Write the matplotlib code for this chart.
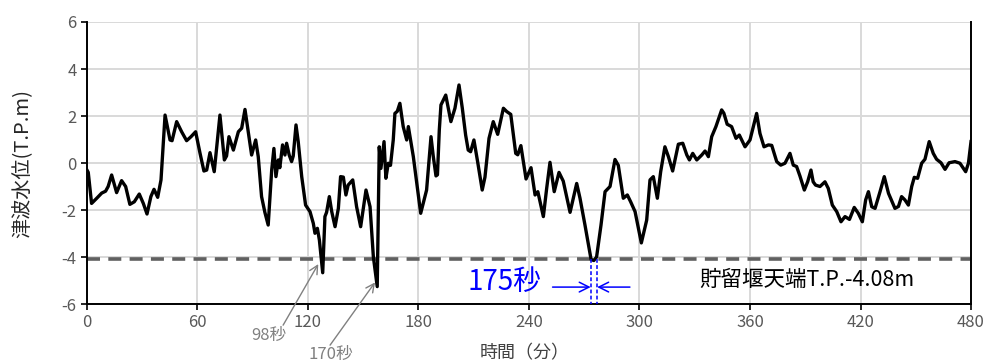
import matplotlib
matplotlib.use("Agg")
import matplotlib.pyplot as plt

plt.rcParams['font.family'] = ['Noto Sans CJK JP', 'DejaVu Sans']
plt.rcParams['axes.unicode_minus'] = False

# Time (minutes) and tsunami water level (T.P. m)
time_min = [
    0, 0.7, 2.5, 5.3, 8, 10.1, 11.5, 13.4, 16.1, 18.8, 21, 23.3, 25.7, 28.4, 30.6, 32.6,
    34.7, 36.4, 38.4, 40.2, 42.4, 45.1, 46.2, 48.7, 51.4, 54.1, 56.5, 59, 61.4, 63.5, 65,
    66.8, 69.1, 72.2, 74.6, 75.8, 77.1, 79.5, 82.2, 84, 85.8, 89.4, 91.6, 93, 94.8, 96.6,
    98.4, 100.3, 101.5, 102.6, 103.9, 104.7, 106.2, 107.5, 108.4, 109.8, 111.1, 112, 113.5,
    114.7, 116.6, 118.7, 121.1, 122.9, 123.8, 125.1, 126.2, 127.1, 128, 129.2, 130.1, 131.6,
    132.9, 134.7, 136.5, 137.7, 139.2, 140.6, 141.8, 144.3, 146.4, 148.6, 151.5, 153.7,
    155.5, 157.6, 158.7, 159.6, 161.3, 162.3, 163.6, 164.8, 166.3, 167.2, 168.5, 169.9,
    171.7, 173.6, 174.5, 177.2, 181.2, 184.4, 186.8, 188, 189.5, 190.3, 191.3, 192.2,
    194.8, 197.6, 199.8, 202, 203.8, 205.6, 207, 208.3, 210.1, 212.1, 214.6, 216.1, 218.3,
    220.6, 223, 226.1, 227.9, 230.1, 232.8, 233.9, 235.6, 238.4, 241.1, 243.3, 244.8,
    247.8, 249.6, 251.4, 253.7, 256.3, 258.6, 262.3, 265.9, 267.7, 270.4, 273.7, 275.2,
    276.7, 279.1, 281.3, 284, 286.7, 288.5, 291.2, 293.4, 295.2, 297.6, 301, 303.9, 305.7,
    307.5, 309.7, 311.5, 313.8, 315.7, 318, 321.1, 323.5, 325.7, 327.1, 328.9, 331.1,
    333.8, 335.6, 337.4, 339.2, 341.5, 344.6, 345.8, 347.6, 350, 352.4, 354.2, 357.3, 360,
    361.8, 363.6, 365.4, 367.6, 370, 371.8, 374.5, 376.7, 379, 381.7, 383.5, 385.3, 387.1,
    389.5, 391.3, 393.1, 394.3, 395.6, 398, 400.7, 402.5, 404.7, 407.1, 409.4, 411.6, 414,
    416.6, 418.8, 421, 422.8, 424.3, 426.1, 427.9, 430.6, 432.9, 435.2, 438.7, 440.6,
    442.3, 444.1, 446, 447.8, 449.2, 451, 453.2, 455, 457.3, 459.5, 461.3, 463.7, 465.9,
    468.1, 471.3, 474, 477.1, 478.6, 480,
]
water_level = [
    -0.3, -0.4, -1.72, -1.5, -1.28, -1.2, -1.0, -0.51, -1.26, -0.75, -1.0, -1.76, -1.65,
    -1.32, -1.72, -2.17, -1.43, -1.12, -1.46, -0.72, 2.04, 0.98, 0.95, 1.76, 1.33, 0.95,
    1.12, 1.33, 0.41, -0.34, -0.3, 0.44, -0.37, 2.04, 0.13, 0.3, 1.12, 0.55, 1.33, 1.48,
    2.28, 0.34, 0.98, 0.27, -1.43, -2.1, -2.64, -0.3, 0.62, -0.58, 0.13, -0.2, 0.77, 0.34,
    0.84, 0.34, 0.06, 0.3, 1.62, 0.91, -0.58, -1.79, -2.07, -2.57, -2.99, -2.78, -3.28,
    -3.99, -4.67, -2.28, -2.1, -1.43, -2.07, -2.71, -1.93, -0.58, -0.6, -1.36, -0.94,
    -0.72, -1.86, -2.71, -1.15, -1.86, -3.99, -5.26, 0.69, -0.23, 0.91, -0.65, -0.01, -0.1,
    0.98, 2.11, 2.2, 2.54, 1.55, 0.98, 1.55, 0.27, -2.14, -1.15, 1.12, 0.3, -0.55, -0.5,
    1.4, 2.47, 2.89, 1.76, 2.33, 3.32, 2.33, 1.19, 0.55, 0.48, 0.98, 0.06, -1.15, -0.6,
    1.05, 1.76, 1.22, 2.33, 2.19, 2.07, 0.41, 0.35, 0.74, -0.68, -0.2, -1.36, -1.22, -2.28,
    -1.08, 0.03, -1.22, -0.4, -0.77, -2.1, -0.87, -1.5, -2.64, -4.1, -4.15, -4.0, -2.64,
    -1.22, -1.0, 0.15, -0.1, -1.5, -1.36, -1.65, -2.07, -3.4, -2.43, -0.72, -0.58, -1.5,
    -0.37, 0.69, 0.27, -0.34, 0.8, 0.84, 0.34, 0.13, 0.41, 0.13, 0.34, 0.51, 0.27, 1.12,
    1.55, 2.26, 2.12, 1.65, 1.55, 1.05, 1.19, 0.69, 0.98, 1.55, 2.11, 1.26, 0.69, 0.77,
    0.75, 0.06, -0.09, -0.01, 0.41, -0.09, -0.15, -0.55, -1.15, -0.8, -0.3, -0.8, -0.94,
    -1.0, -0.8, -1.08, -1.79, -2.07, -2.5, -2.28, -2.4, -1.89, -2.14, -2.5, -1.57, -1.22,
    -1.86, -1.93, -1.22, -0.58, -1.29, -1.93, -1.85, -1.43, -1.57, -1.79, -1.0, -0.61,
    -0.65, -0.01, 0.16, 0.91, 0.41, 0.16, 0.01, -0.27, 0.01, 0.06, -0.01, -0.37, -0.01,
    0.91,
]

weir_crest = -4.08
x_ticks = [0, 60, 120, 180, 240, 300, 360, 420, 480]
y_ticks = [-6, -4, -2, 0, 2, 4, 6]

# Duration below weir crest (seconds) and where each is marked
dur_labels = ["98秒", "170秒"]
dur_text_pos = [(98.8, -7.35), (132.5, -8.15)]
dur_arrow_tail = [(106.5, -6.9), (132.0, -7.75)]
dur_arrow_head = [(125.6, -4.3), (156.4, -5.08)]

window_sec = 175
window_start = 273.8

fig = plt.figure(figsize=(9.86, 3.63), dpi=100)
ax = fig.add_axes([0.0882, 0.1625, 0.8966, 0.7769])

ax.set_xlim(0, 480)
ax.set_ylim(-6, 6)
ax.set_xticks(x_ticks)
ax.set_yticks(y_ticks)
ax.grid(True, color="#d9d9d9", linewidth=1.4)
ax.set_axisbelow(True)

for side in ["left", "bottom", "right"]:
    ax.spines[side].set_color("black")
    ax.spines[side].set_linewidth(1.4)
ax.spines["top"].set_visible(False)

ax.tick_params(axis="both", direction="out", length=4, width=1.2, color="black",
               labelsize=12, labelcolor="#595959")

# Weir crest level
ax.axhline(weir_crest, color="#606060", linewidth=2.6,
           linestyle=(0, (3.6, 2.3)), zorder=2)

# Water level time series
ax.plot(time_min, water_level, color="black", linewidth=2.4,
        solid_joinstyle="round", zorder=3)

# Annotations for durations below crest
for lab, tp, tail, head in zip(dur_labels, dur_text_pos, dur_arrow_tail, dur_arrow_head):
    ax.annotate("", xy=head, xytext=tail, annotation_clip=False,
                arrowprops=dict(arrowstyle="->,head_length=0.6,head_width=0.3",
                                color="#808080", lw=1.0, shrinkA=0, shrinkB=0))
    ax.text(tp[0], tp[1], lab, color="#808080", fontsize=12,
            ha="center", va="center", clip_on=False)

# 175 s window at the third trough
window_end = window_start + window_sec / 60.0
for xv in (window_start, window_end):
    ax.plot([xv, xv], [weir_crest, -6], color="#0000ff", linewidth=1.1,
            linestyle=(0, (2.5, 1.5)), zorder=4)
ax.annotate("", xy=(window_start - 0.3, -5.28), xytext=(252.8, -5.28),
            arrowprops=dict(arrowstyle="->,head_length=0.7,head_width=0.35",
                            color="#0000ff", lw=1.1, shrinkA=0, shrinkB=0))
ax.annotate("", xy=(window_end + 0.3, -5.28), xytext=(294.8, -5.28),
            arrowprops=dict(arrowstyle="->,head_length=0.7,head_width=0.35",
                            color="#0000ff", lw=1.1, shrinkA=0, shrinkB=0))
ax.text(226.5, -5.08, f"{window_sec}秒", color="#0000ff", fontsize=20,
        ha="center", va="center")

ax.text(332.5, -4.98, f"貯留堰天端T.P.{weir_crest:.2f}m", color="black",
        fontsize=15.5, ha="left", va="center")

ax.set_xlabel("時間（分）", fontsize=13, color="#404040")
ax.set_ylabel("津波水位(T.P.m)", fontsize=14.5, color="#262626")
ax.xaxis.label.set_va("center")
ax.yaxis.label.set_va("center")
ax.xaxis.set_label_coords(0.495, -0.175)
ax.yaxis.set_label_coords(-0.073, 0.5)

fig.savefig("out.png", dpi=100)
